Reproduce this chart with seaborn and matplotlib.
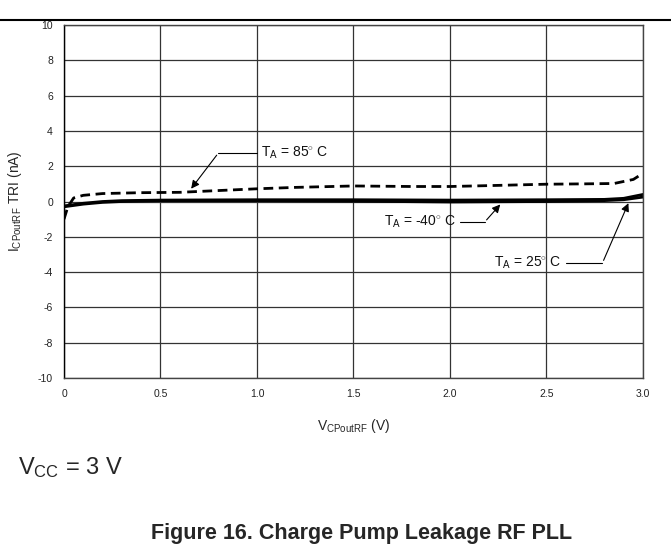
import matplotlib
matplotlib.use("Agg")
import matplotlib.pyplot as plt
import pandas as pd
import seaborn as sns

# curve readings
x_85 = [0, 0.02, 0.05, 0.1, 0.2, 0.4, 0.6, 0.8, 1.0, 1.2, 1.5, 1.8, 2.0,
        2.2, 2.5, 2.7, 2.85, 2.95, 3.0]
i_85 = [-1.0, -0.3, 0.2, 0.35, 0.45, 0.5, 0.52, 0.62, 0.72, 0.8, 0.88,
        0.85, 0.85, 0.9, 0.98, 1.0, 1.02, 1.25, 1.6]

x_m40 = [0, 0.1, 0.2, 0.3, 0.5, 1.0, 1.5, 2.0, 2.5, 2.8, 2.9, 3.0]
i_m40 = [-0.3, -0.15, -0.05, 0.0, 0.05, 0.05, 0.02, -0.03, 0.0, 0.05, 0.1, 0.25]

x_25 = [0, 0.1, 0.2, 0.3, 0.5, 1.0, 1.5, 2.0, 2.5, 2.8, 2.9, 3.0]
i_25 = [-0.25, -0.1, 0.0, 0.05, 0.08, 0.1, 0.1, 0.08, 0.1, 0.12, 0.18, 0.4]

x_ticks = [0, 0.5, 1.0, 1.5, 2.0, 2.5, 3.0]
x_tick_labels = ['0', '0.5', '1.0', '1.5', '2.0', '2.5', '3.0']
y_ticks = list(range(-10, 11, 2))

df = pd.concat([
    pd.DataFrame({'v': x_85, 'i': i_85, 'temp': '85'}),
    pd.DataFrame({'v': x_m40, 'i': i_m40, 'temp': '-40'}),
    pd.DataFrame({'v': x_25, 'i': i_25, 'temp': '25'}),
])

sns.set_style('white')
plt.rcParams['font.family'] = ['Liberation Sans', 'DejaVu Sans']
plt.rcParams['mathtext.fontset'] = 'custom'
plt.rcParams['mathtext.rm'] = 'Liberation Sans'
plt.rcParams['mathtext.it'] = 'Liberation Sans'
plt.rcParams['axes.unicode_minus'] = False

fig = plt.figure(figsize=(6.71, 5.55), dpi=100)
ax = fig.add_axes([64 / 671, 1 - 378 / 555, (643 - 64) / 671, (378 - 25) / 555])

sns.lineplot(data=df, x='v', y='i', hue='temp', style='temp',
             palette={'85': 'black', '-40': 'black', '25': 'black'},
             dashes={'85': (3.5, 2), '-40': '', '25': ''},
             linewidth=2, legend=False, ax=ax)

ax.set_xlim(0, 3.0)
ax.set_ylim(-10, 10)
ax.set_xticks(x_ticks)
ax.set_xticklabels(x_tick_labels)
ax.set_yticks(y_ticks)
ax.tick_params(length=0, labelsize=7.5, pad=8, colors='#222222')
ax.grid(True, color='#333333', linewidth=0.9)
for s in ax.spines.values():
    s.set_color('#444444')
    s.set_linewidth(1)
ax.spines['left'].set_color('black')

ax.set_xlabel(r'V$_{\mathrm{CPoutRF}}$ (V)', fontsize=10, labelpad=13)
ax.set_ylabel(r'I$_{\mathrm{CPoutRF}}$ TRI (nA)', fontsize=10, labelpad=10)

# annotations with elbow leaders
lbl_kw = dict(fontsize=10, va='center', color='#111111')
arrow_kw = dict(arrowstyle='-|>', color='black', lw=0.8, mutation_scale=12)

ax.text(1.02, 2.75, r'T$_{\mathrm{A}}$ = 85$^{\circ}$ C', ha='left', **lbl_kw)
ax.plot([0.80, 1.0], [2.75, 2.75], color='black', lw=0.8)
ax.annotate('', xy=(0.65, 0.6), xytext=(0.80, 2.75), arrowprops=arrow_kw)

ax.text(2.03, -1.16, r'T$_{\mathrm{A}}$ = -40$^{\circ}$ C', ha='right', **lbl_kw)
ax.plot([2.05, 2.18], [-1.16, -1.16], color='black', lw=0.8)
ax.annotate('', xy=(2.27, -0.05), xytext=(2.18, -1.16), arrowprops=arrow_kw)

ax.text(2.58, -3.48, r'T$_{\mathrm{A}}$ = 25$^{\circ}$ C', ha='right', **lbl_kw)
ax.plot([2.6, 2.79], [-3.48, -3.48], color='black', lw=0.8)
ax.annotate('', xy=(2.93, 0.05), xytext=(2.79, -3.48), arrowprops=arrow_kw)

# page decorations
fig.add_artist(plt.Line2D([0, 1], [1 - 20 / 555, 1 - 20 / 555], color='black', lw=1.5))
fig.text(18 / 671, 1 - 468 / 555, r'V$_{\mathrm{CC}}$ = 3 V', fontsize=17, va='center')
fig.text(362 / 671, 1 - 534 / 555, 'Figure 16. Charge Pump Leakage RF PLL',
         fontsize=15.5, fontweight='bold', ha='center', va='center')

fig.savefig('out.png', dpi=100)
